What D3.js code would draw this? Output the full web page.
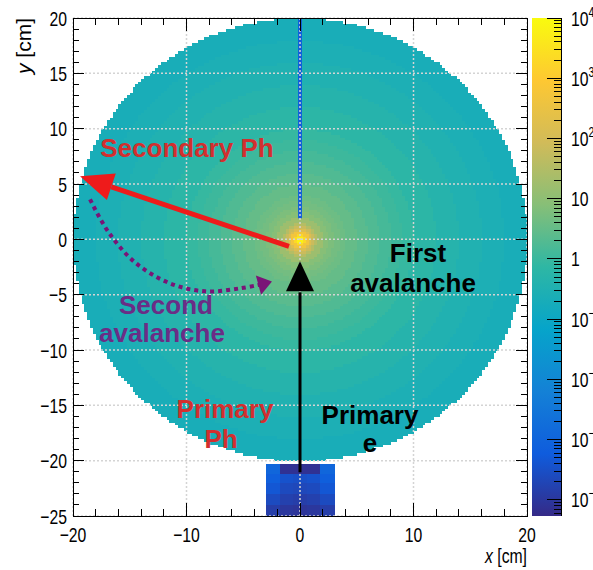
<!DOCTYPE html>
<html><head><meta charset="utf-8">
<script src="https://cdn.jsdelivr.net/npm/d3@7"></script>
<style>body{margin:0;background:#fff;} svg{display:block;font-family:"Liberation Sans",Arial,sans-serif;}</style>
</head><body><svg id="c" width="593" height="570"></svg>
<script>
// ---------------- data ----------------
const xDomain = [-20, 20];
const yDomain = [-25, 20];
const xMajorTicks = [-20, -10, 0, 10, 20];
const xMinorStep = 2;
const yMajorTicks = [-25, -20, -15, -10, -5, 0, 5, 10, 15, 20];
const yMinorStep = 1;
const zMin = 5.4e-5, zMax = 1e4;
const zLabelExps = [-4, -3, -2, -1, 0, 1, 2, 3, 4];

// disc of the 2D histogram: radial profile
const binWidth = 0.25;
const discRadius = 20;
const profileREdges = [0, 0.25, 0.5, 0.75, 1, 1.25, 1.5, 2, 2.5, 3, 3.5, 4, 5, 6, 7, 8, 9, 10, 12, 14, 16, 18, 21];
const profileValues = [7000, 2000, 500, 150, 70, 35, 16, 8, 6, 4.8, 4, 3.2, 2.4, 1.8, 1.4, 1.1, 0.9, 0.65, 0.45, 0.33, 0.26, 0.21];

// thin low-count strip along x = 0
const stripX = [-0.17, 0.17];
const stripY = [1.9, 20];
const stripValue = 6e-4;

// source box at the bottom
const boxXEdges = [-3, -1.75, -0.6, 0.6, 1.8, 3];
const boxYEdges = [-20.3, -21.2, -22, -23, -24, -25];
const boxValues = [
  [1.1e-3, 7.5e-5, 7.5e-5, 7.5e-5, 1.1e-3],
  [7e-4, 3.6e-4, 3.2e-4, 3.6e-4, 7e-4],
  [4.5e-4, 2.5e-4, 2.2e-4, 2.5e-4, 4.5e-4],
  [2.6e-4, 1.6e-4, 1.4e-4, 1.6e-4, 2.6e-4],
  [1.4e-4, 1.0e-4, 9e-5, 1.0e-4, 1.4e-4]
];

// ROOT kBird palette
const birdStops = [0, 0.125, 0.25, 0.375, 0.5, 0.625, 0.75, 0.875, 1];
const birdColors = ["#352a87", "#0f5cdd", "#1481d6", "#06a4ca", "#2eb7a4", "#87bf77", "#d1bb59", "#fec832", "#f9fb0e"];

// annotations (data coordinates, cm)
const redArrow = {from: [-0.97, -0.63], to: [-19.38, 5.69]};
const blackArrow = {from: [0, -21.05], to: [0, -1.99]};
const purplePath = [[-18.5, 3.61], [-16.92, 0.72], [-14.54, -2.08], [-11.45, -3.98], [-8.37, -4.70], [-5.29, -4.43], [-3.55, -4.10]];
const purpleTip = [-2.47, -3.80];
const labels = [
  {t: "Secondary Ph", at: [-9.96, 7.41], c: "red"},
  {t: "First", at: [10.40, -2.08], c: "black"},
  {t: "avalanche", at: [9.96, -4.79], c: "black"},
  {t: "Second", at: [-11.81, -6.78], c: "purple"},
  {t: "avalanche", at: [-12.16, -9.31], c: "purple"},
  {t: "Primary", at: [-6.61, -16.17], c: "red"},
  {t: "Ph", at: [-6.96, -18.88], c: "red"},
  {t: "Primary", at: [6.17, -16.72], c: "black"},
  {t: "e", at: [6.17, -19.25], c: "black"}
];

// ---------------- drawing ----------------
const svg = d3.select("#c");
const F = {l: 73, r: 527, t: 18, b: 516};
const x = d3.scaleLinear().domain(xDomain).range([F.l, F.r]);
const y = d3.scaleLinear().domain(yDomain).range([F.b, F.t]);
const z = d3.scaleLog().domain([zMin, zMax]).range([0, 1]).clamp(true);
const pal = d3.scaleLinear().domain(birdStops).range(birdColors).interpolate(d3.interpolateRgb);
const color = v => pal(z(v));

svg.append("defs").append("clipPath").attr("id", "fr")
  .append("rect").attr("x", F.l).attr("y", F.t).attr("width", F.r - F.l).attr("height", F.b - F.t);
const plot = svg.append("g").attr("clip-path", "url(#fr)");

// disc cells
const cells = [];
const centers = d3.range(-discRadius + binWidth / 2, discRadius, binWidth);
for (const cx of centers) for (const cy of centers) {
  const r = Math.hypot(cx, cy);
  if (r > discRadius) continue;
  const i = Math.min(d3.bisectRight(profileREdges, r) - 1, profileValues.length - 1);
  cells.push({x0: cx - binWidth / 2, y0: cy - binWidth / 2, v: profileValues[i]});
}
plot.append("g").attr("shape-rendering", "crispEdges").selectAll("rect").data(cells).join("rect")
  .attr("x", d => x(d.x0))
  .attr("y", d => y(d.y0 + binWidth))
  .attr("width", d => x(d.x0 + binWidth) - x(d.x0) + 0.6)
  .attr("height", d => y(d.y0) - y(d.y0 + binWidth) + 0.6)
  .attr("fill", d => color(d.v));

// strip
plot.append("rect")
  .attr("x", x(stripX[0])).attr("y", y(stripY[1]))
  .attr("width", x(stripX[1]) - x(stripX[0])).attr("height", y(stripY[0]) - y(stripY[1]))
  .attr("fill", color(stripValue));

// box
const boxCells = [];
boxValues.forEach((row, j) => row.forEach((v, i) => boxCells.push({
  x0: boxXEdges[i], x1: boxXEdges[i + 1], yTop: boxYEdges[j], yBot: boxYEdges[j + 1], v})));
plot.append("g").attr("shape-rendering", "crispEdges").selectAll("rect").data(boxCells).join("rect")
  .attr("x", d => x(d.x0)).attr("y", d => y(d.yTop))
  .attr("width", d => x(d.x1) - x(d.x0) + 0.5).attr("height", d => y(d.yBot) - y(d.yTop) + 0.5)
  .attr("fill", d => color(d.v));

// grid
const grid = svg.append("g").attr("stroke", "#d4d4d4").attr("stroke-width", 1.5).attr("stroke-dasharray", "2,2");
xMajorTicks.forEach(t => grid.append("line").attr("x1", x(t)).attr("x2", x(t)).attr("y1", F.t).attr("y2", F.b));
yMajorTicks.forEach(t => grid.append("line").attr("y1", y(t)).attr("y2", y(t)).attr("x1", F.l).attr("x2", F.r));

// frame and ticks
const ax = svg.append("g").attr("stroke", "#000").attr("stroke-width", 1).attr("shape-rendering", "crispEdges");
ax.append("rect").attr("x", F.l).attr("y", F.t).attr("width", F.r - F.l).attr("height", F.b - F.t).attr("fill", "none");
d3.range(xDomain[0], xDomain[1] + 0.001, xMinorStep).forEach(t => {
  const L = xMajorTicks.includes(t) ? 13 : 7;
  ax.append("line").attr("x1", x(t)).attr("x2", x(t)).attr("y1", F.b).attr("y2", F.b - L);
  ax.append("line").attr("x1", x(t)).attr("x2", x(t)).attr("y1", F.t).attr("y2", F.t + L);
});
d3.range(yDomain[0], yDomain[1] + 0.001, yMinorStep).forEach(t => {
  const L = yMajorTicks.includes(t) ? 11 : 6;
  ax.append("line").attr("y1", y(t)).attr("y2", y(t)).attr("x1", F.l).attr("x2", F.l + L);
  ax.append("line").attr("y1", y(t)).attr("y2", y(t)).attr("x1", F.r).attr("x2", F.r - L);
});

const fmt = d3.format("");
const squeeze = 0.75;
const lab = svg.append("g").attr("font-size", 21).attr("fill", "#000");
xMajorTicks.forEach(t => lab.append("text")
  .attr("transform", `translate(${x(t)},${F.b + 26}) scale(${squeeze},1)`)
  .attr("text-anchor", "middle").text(fmt(t)));
yMajorTicks.forEach(t => lab.append("text")
  .attr("transform", `translate(${F.l - 6},${y(t) + 7.5}) scale(${squeeze},1)`)
  .attr("text-anchor", "end").text(fmt(t)));

// axis titles
const xt = lab.append("text").attr("transform", `translate(${F.r},563) scale(${squeeze},1)`).attr("text-anchor", "end");
xt.append("tspan").attr("font-style", "italic").text("x");
xt.append("tspan").text(" [cm]");
const yt = lab.append("text").attr("transform", `translate(31,${F.t}) rotate(-90)`).attr("text-anchor", "end");
yt.append("tspan").attr("font-style", "italic").text("y");
yt.append("tspan").text(" [cm]");

// colour bar
const cb = {x0: 532, x1: 561};
const zy = d3.scaleLog().domain([zMin, zMax]).range([F.b, F.t]);
const grad = svg.select("defs").append("linearGradient").attr("id", "pal")
  .attr("x1", 0).attr("y1", 1).attr("x2", 0).attr("y2", 0);
birdStops.forEach((s, i) => grad.append("stop").attr("offset", s).attr("stop-color", birdColors[i]));
svg.append("rect").attr("x", cb.x0).attr("y", F.t).attr("width", cb.x1 - cb.x0).attr("height", F.b - F.t).attr("fill", "url(#pal)");
const cba = svg.append("g").attr("stroke", "#000").attr("stroke-width", 1).attr("shape-rendering", "crispEdges");
cba.append("line").attr("x1", cb.x1).attr("x2", cb.x1).attr("y1", F.t).attr("y2", F.b);
for (let e = -5; e <= 4; e++) {
  for (let k = 1; k <= 9; k++) {
    const v = k * Math.pow(10, e);
    if (v < zMin * 0.999 || v > zMax * 1.001) continue;
    const L = k === 1 ? 14 : 7;
    cba.append("line").attr("x1", cb.x1).attr("x2", cb.x1 - L).attr("y1", zy(v)).attr("y2", zy(v));
  }
}
zLabelExps.forEach(e => {
  const t = lab.append("text").attr("transform", `translate(571,${zy(Math.pow(10, e)) + 7.5}) scale(${squeeze},1)`);
  if (e === 0) t.text("1");
  else if (e === 1) t.text("10");
  else {
    t.append("tspan").text("10");
    t.append("tspan").attr("font-size", 14).attr("dy", -9).text(e < 0 ? "\u2212" + (-e) : String(e));
  }
});

// ---------------- annotations ----------------
const P = d => [x(d[0]), y(d[1])];
function head(g, tip, from, len, hw, fill) {
  const dx = tip[0] - from[0], dy = tip[1] - from[1], n = Math.hypot(dx, dy);
  const ux = dx / n, uy = dy / n;
  const bx = tip[0] - ux * len, by = tip[1] - uy * len;
  g.append("path").attr("d", `M${tip[0]},${tip[1]}L${bx - uy * hw},${by + ux * hw}L${bx + uy * hw},${by - ux * hw}Z`).attr("fill", fill);
  return [bx, by];
}
const an = svg.append("g");
// red arrow
{
  const a = P(redArrow.from), b = P(redArrow.to);
  const base = head(an, b, a, 33, 14, "#ee1b1b");
  an.append("line").attr("x1", a[0]).attr("y1", a[1]).attr("x2", base[0]).attr("y2", base[1])
    .attr("stroke", "#ee1b1b").attr("stroke-width", 5);
}
// black arrow
{
  const a = P(blackArrow.from), b = P(blackArrow.to);
  const base = head(an, b, a, 30, 14, "#000");
  an.append("line").attr("x1", a[0]).attr("y1", a[1]).attr("x2", base[0]).attr("y2", base[1] + 1)
    .attr("stroke", "#000").attr("stroke-width", 3);
}
// purple dotted curve
{
  const pts = purplePath.map(P);
  an.append("path").attr("d", d3.line().curve(d3.curveCatmullRom)(pts))
    .attr("fill", "none").attr("stroke", "#7a1477").attr("stroke-width", 4).attr("stroke-dasharray", "4,4");
  head(an, P(purpleTip), pts[pts.length - 1], 14, 10, "#7a1477");
}
const textColors = {red: "#d22f2f", black: "#000", purple: "#6b2d86"};
labels.forEach(l => an.append("text").attr("x", x(l.at[0])).attr("y", y(l.at[1]))
  .attr("text-anchor", "middle").attr("font-weight", "bold").attr("font-size", 26)
  .attr("fill", textColors[l.c]).text(l.t));
</script>
</body></html>
